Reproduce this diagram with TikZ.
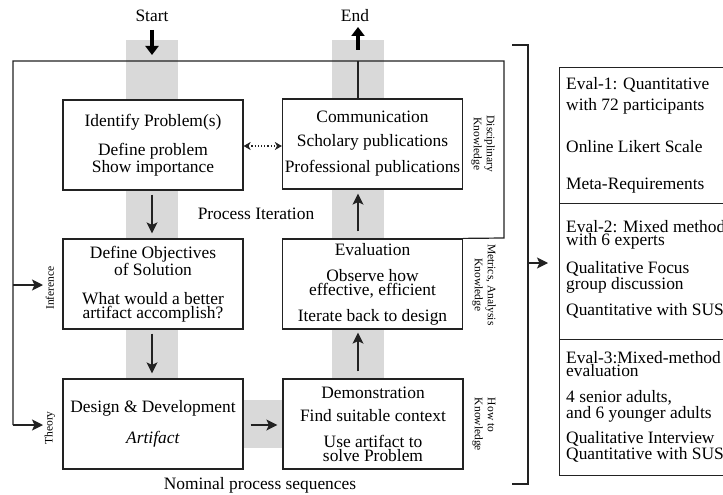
\documentclass[tikz,border=0pt]{standalone}
\usepackage{fontspec}
\setmainfont{Liberation Serif}
\usetikzlibrary{arrows.meta,calc}
\definecolor{band}{HTML}{D9D9D9}
\definecolor{ink}{HTML}{222222}
\begin{document}
\begin{tikzpicture}[x=1pt,y=-1pt,
  every node/.style={text=black},
  main/.style={font=\fontsize{17.4}{14}\selectfont},
  side/.style={font=\fontsize{11.5}{13}\selectfont},
  procbox/.style={draw=ink,line width=1.2pt,fill=white,minimum width=180pt,minimum height=90pt,inner sep=0pt,align=center,font=\fontsize{17.4}{14}\selectfont},
  evalbox/.style={draw=ink,line width=1.2pt,fill=white,minimum width=190pt,minimum height=136pt,inner sep=0pt,anchor=north west},
  evaltxt/.style={anchor=west,align=left,inner sep=0pt,font=\fontsize{17.4}{13.5}\selectfont},
  arr/.style={draw=ink,line width=1.3pt,-{Stealth[length=11pt,width=11pt,inset=2.5pt]}},
  bigarr/.style={draw=black,line width=4.5pt,-{Triangle[length=9pt,width=13pt]}},
  ln/.style={draw=ink,line width=1.2pt}
]
\useasboundingbox (0,0) rectangle (723,495);
% gray bands
\fill[band] (126,40) rectangle (178,379);
\fill[band] (332,40) rectangle (384,379);
\fill[band] (243,400) rectangle (283,448);

% outer loop
\coordinate (lpA) at (504,238);
\coordinate (lpB) at (504,61);
\coordinate (lpC) at (13,61);
\coordinate (lpD) at (13,425);
\coordinate (lpE) at (13,285);
\coordinate (inf) at (43,285);
\coordinate (thy) at (43,425);
\coordinate (ctop) at (358,61);

% boxes
\node[procbox] (id) at (153,145) {Identify Problem(s)\\[12pt]Define problem\\Show importance};
\node[procbox] (comm) at (372.5,144) {Communication\\[10pt]Scholary publications\\[9pt]Professional publications};
\node[procbox] (def) at (153,284) {Define Objectives\\of Solution\\[15pt]What would a better\\artifact accomplish?};
\node[procbox] (eval) at (372.5,284) {Evaluation\\[12pt]Observe how\\effective, efficient\\[10pt]Iterate back to design};
\node[procbox] (des) at (153,424) {Design \& Development\\[14pt]\textit{Artifact}};
\node[procbox] (demo) at (373,424) {Demonstration\\[9pt]Find suitable context\\[12pt]Use artifact to\\solve Problem};

\draw[ln] (eval.north east) -- (lpA) -- (lpB) -- (lpC) -- (lpD);
\draw[arr] (lpE) -- (inf);
\draw[arr] (lpD) -- (thy);
\draw[ln] ([xshift=-14.5pt]comm.north) -- (ctop);

% arrows
\draw[arr,shorten <=4pt,shorten >=5pt] ([xshift=-1pt]id.south) -- ([xshift=-1pt]def.north);
\draw[arr,shorten <=4pt,shorten >=5pt] ([xshift=-1pt]def.south) -- ([xshift=-1pt]des.north);
\draw[arr,shorten <=7pt,shorten >=5pt] ([yshift=-1pt]des.east) -- ([yshift=-1pt]des.east -| demo.west);
\draw[arr,shorten <=7pt,shorten >=3pt] ([xshift=-15pt]demo.north) -- ([xshift=-15pt]demo.north |- eval.south);
\draw[arr,shorten <=7pt,shorten >=4pt] ([xshift=-14.5pt]eval.north) -- ([xshift=-14.5pt]comm.south);
\draw[draw=ink,line width=1.2pt,dotted,{Stealth[length=7pt,width=8pt,inset=2pt]}-{Stealth[length=7pt,width=8pt,inset=2pt]}] ([yshift=-1pt]id.east) -- ([yshift=-1pt]id.east -| comm.west);

% start / end
\node[main] (start) at (152,16) {Start};
\node[main] (end) at (355,16) {End};
\coordinate (s0) at (152,30);
\coordinate (s1) at (152,55);
\coordinate (e0) at (358,50);
\coordinate (e1) at (358,27);
\draw[bigarr] (s0) -- (s1);
\draw[bigarr] (e0) -- (e1);

% labels
\node[main] (iter) at (256,214) {Process Iteration};
\node[main] (nom) at (260,485) {Nominal process sequences};
\node[side,rotate=-90,align=center] (disc) at (483,144) {Disciplinary\\Knowledge};
\node[side,rotate=-90,align=center] (metr) at (484,285) {Metrics, Analysis\\Knowledge};
\node[side,rotate=-90,align=left] (howto) at (484,424.5) {How to\\Knowledge};
\node[side,rotate=90] (infl) at (50,288) {Inference};
\node[side,rotate=90] (thl) at (50,428) {Theory};

% bracket
\coordinate (b0) at (512,45);
\coordinate (b1) at (528,45);
\coordinate (b2) at (528,484);
\coordinate (b3) at (512,484);
\coordinate (ba) at (528,263);
\coordinate (bb) at (548,263);
\draw[ln] (b0) -- (b1) -- (b2) -- (b3);
\draw[arr] (ba) -- (bb);

% evaluation panel
\node[evalbox] (e1box) at (559,67) {};
\node[evalbox] (e2box) at (559,203) {};
\node[evalbox] (e3box) at (559,339) {};
\node[evaltxt] (t11) at (566,95.5) {Eval-1: Quantitative\\[5pt]with 72 participants};
\node[evaltxt] (t12) at (566,147) {Online Likert Scale};
\node[evaltxt] (t13) at (566,186) {Meta-Requirements};
\node[evaltxt] (t21) at (566,235) {Eval-2: Mixed method\\with 6 experts};
\node[evaltxt] (t22) at (566,277) {Qualitative Focus\\group discussion};
\node[evaltxt] (t23) at (566,311) {Quantitative with SUS};
\node[evaltxt] (t31) at (566,364) {Eval-3:Mixed-method\\evaluation};
\node[evaltxt] (t32) at (566,406.5) {4 senior adults,\\and 6 younger adults};
\node[evaltxt] (t33) at (566,446.5) {Qualitative Interview\\Quantitative with SUS};
\end{tikzpicture}
\end{document}
